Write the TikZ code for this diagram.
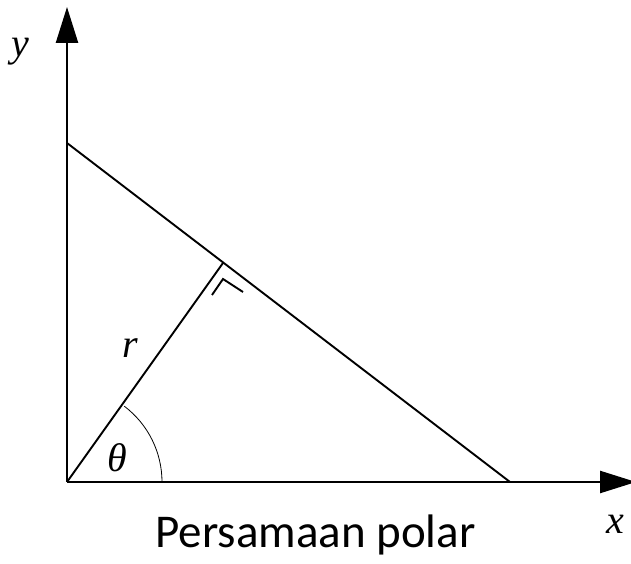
\documentclass[tikz,border=0pt]{standalone}
\usepackage{fontspec}
\setmainfont{Liberation Serif}
\newfontfamily\capfont{Carlito}
\usetikzlibrary{arrows.meta}

\begin{document}
\begin{tikzpicture}[x=1pt,y=1pt,
    axis/.style={line width=2.4pt,-{Triangle[length=36pt,width=22pt]}},
    edge/.style={line width=1.9pt},
    thin/.style={line width=0.8pt},
    lbl/.style={font=\fontsize{40}{40}\selectfont\itshape},
    capt/.style={font=\capfont\fontsize{47}{47}\selectfont,anchor=base}]
  \useasboundingbox (0,0) rectangle (631,564);
  \coordinate (O) at (67,82);
  \coordinate (ytip) at (67,557);
  \coordinate (xtip) at (636,82);
  \coordinate (A) at (67,421);
  \coordinate (B) at (510,82);
  \coordinate (F) at (223,301);
  \coordinate (m1) at (212,269);
  \coordinate (m2) at (223,285);
  \coordinate (m3) at (243,272);
  \draw[axis] (O) -- (ytip);
  \draw[axis] (O) -- (xtip);
  \draw[edge] (A) -- (B);
  \draw[edge] (O) -- (F);
  \draw[edge] (m1) -- (m2) -- (m3);
  \draw[thin] ([shift={(0:95)}]O) arc[start angle=0,end angle=53,radius=95];
  \node[lbl] (ylbl) at (20,512) {y};
  \node[lbl] (xlbl) at (615,40) {x};
  \node[lbl] (rlbl) at (130,216) {r};
  \node[lbl] (tlbl) at (117,106) {θ};
  \node[capt] (cap) at (315.5,16) {Persamaan polar};
\end{tikzpicture}
\end{document}
